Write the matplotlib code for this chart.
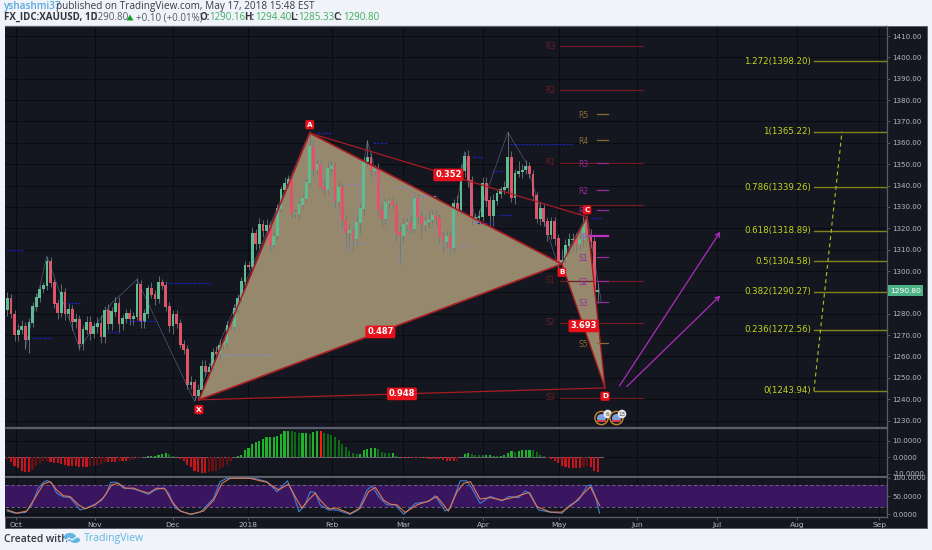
import numpy as np
import matplotlib
matplotlib.use('Agg')
import matplotlib.pyplot as plt
from matplotlib.patches import Rectangle, Circle, Ellipse

# candles, one close per trading day
first_open = 1282.0
closes = [1287.2, 1279.9, 1270.3, 1272.4, 1274.2, 1267.7, 1276.0, 1283.3, 1287.7, 1291.6,
          1293.1, 1304.4, 1294.5, 1284.9, 1280.5, 1289.9, 1279.9, 1282.1, 1276.3, 1277.4,
          1266.1, 1272.7, 1275.8, 1270.5, 1274.2, 1275.5, 1269.3, 1281.7, 1275.2, 1281.0,
          1284.9, 1275.2, 1277.8, 1280.2, 1277.8, 1278.9, 1293.7, 1276.3, 1280.2, 1291.7,
          1289.2, 1287.2, 1294.5, 1293.4, 1283.3, 1274.7, 1279.9, 1275.5, 1265.8, 1263.3,
          1246.9, 1247.7, 1241.5, 1244.3, 1255.2, 1252.9, 1254.9, 1261.8, 1261.2, 1265.4,
          1266.4, 1274.7, 1274.2, 1282.5, 1287.2, 1295.0, 1302.8, 1302.3, 1317.6, 1312.9,
          1322.0, 1318.9, 1321.5, 1312.2, 1316.4, 1329.3, 1338.0, 1341.0, 1343.0, 1326.7,
          1327.0, 1331.0, 1334.1, 1341.4, 1358.5, 1347.6, 1350.0, 1339.5, 1338.0, 1348.1,
          1348.9, 1332.5, 1339.2, 1323.9, 1318.0, 1318.9, 1315.3, 1322.7, 1329.4, 1351.2,
          1353.2, 1346.8, 1347.6, 1328.6, 1324.7, 1332.0, 1332.5, 1330.9, 1318.0, 1316.4,
          1321.6, 1322.7, 1320.0, 1334.1, 1325.5, 1321.6, 1323.1, 1323.9, 1326.1, 1324.7,
          1316.1, 1313.8, 1316.1, 1311.1, 1331.7, 1328.9, 1347.0, 1353.6, 1342.3, 1324.7,
          1325.2, 1325.5, 1341.1, 1333.0, 1326.1, 1333.0, 1336.1, 1338.0, 1339.2, 1353.1,
          1334.5, 1345.8, 1346.5, 1347.3, 1349.2, 1345.4, 1335.2, 1324.5, 1329.4, 1323.1,
          1316.9, 1323.1, 1315.3, 1303.6, 1305.2, 1311.8, 1314.6, 1314.9, 1313.0, 1314.6,
          1321.6, 1316.9, 1313.8, 1290.4, 1290.8]
wick_up = [3, 2, 2, 3, 3, 2, 2, 2, 2, 2,
           2, 2, 2, 2, 2, 4, 2, 3, 2, 3,
           2, 2, 3, 3, 2, 3, 4, 2, 3, 2,
           3, 3, 2, 2, 2, 2, 3, 2, 2, 2,
           3, 2, 3, 2, 2, 2, 2, 2, 2, 2,
           2, 3, 2, 3, 3, 3, 2, 2, 3, 3,
           2, 2, 3, 2, 2, 2, 2, 2, 3, 2,
           3, 2, 3, 2, 2, 2, 2, 3, 2, 3,
           2, 2, 2, 2, 7, 3, 2, 2, 3, 3,
           3, 2, 3, 2, 3, 3, 2, 3, 2, 2,
           8, 2, 2, 3, 3, 2, 2, 3, 2, 3,
           3, 2, 3, 3, 2, 3, 3, 4, 3, 3,
           2, 2, 3, 3, 2, 4, 3, 2, 3, 2,
           2, 3, 3, 3, 2, 3, 2, 2, 3, 12,
           3, 2, 5, 3, 3, 2, 2, 2, 3, 2,
           2, 2, 2, 2, 5, 3, 3, 3, 3, 4,
           4, 3, 3, 2, 3.6]
wick_dn = [3, 2, 3, 3, 2, 4, 6, 2, 2, 2,
           2, 2, 2, 2, 3, 2, 3, 3, 4, 3,
           3, 3, 2, 3, 2, 3, 3, 3, 3, 3,
           2, 4, 3, 2, 3, 3, 2, 3, 3, 2,
           2, 3, 2, 2, 2, 3, 4, 2, 2, 2,
           2, 2, 2, 2, 2, 2, 4, 2, 2, 3,
           2, 2, 2, 2, 2, 2, 2, 2, 2, 3,
           2, 3, 2, 3, 2, 2, 2, 3, 2, 2,
           2, 3, 2, 2, 2, 3, 3, 2, 3, 2,
           2, 3, 3, 4, 7, 9, 6, 3, 5, 3,
           2, 3, 2, 3, 4, 3, 3, 2, 4, 13,
           3, 3, 2, 2, 3, 6, 3, 3, 3, 3,
           3, 5, 3, 3, 2, 2, 2, 3, 3, 3,
           2, 3, 2, 3, 5, 5, 2, 2, 2, 2,
           2, 3, 2, 3, 2, 2, 2, 2, 3, 2,
           3, 2, 3, 2, 2, 2, 4, 5, 4, 3,
           3, 3, 3, 2, 5.5]

# macd histogram
hist = [-1.5, -3, -5, -6.5, -8.5, -9, -9, -7.5, -5.5, -3.5,
        -2.5, -2, -3, -3.5, -3.5, -4, -4.5, -5, -5, -5.5,
        -6, -6, -6, -5.5, -5, -4.5, -4, -3, -3, -3,
        -3, -2.2, -2.2, -2.5, -1.8, -1.5, -0.6, -0.3, 0.3, 0.6,
        0.8, 1.0, 1.5, 2, 2.3, 2, 0.5, 0, -1, -2.5,
        -4.5, -6, -8, -9, -9.5, -9.5, -9, -8.5, -8, -7,
        -6, -4.5, -2, 0, 0.5, 1.5, 4.5, 5.5, 8, 9,
        10, 11, 12, 12, 12, 13, 14, 15.5, 16, 15.5,
        15, 14.5, 14.5, 14.5, 14, 15, 15.5, 15.5, 14.4, 14,
        13.4, 12.4, 10.4, 8, 6.2, 3.8, 2.4, 1.8, 1.8, 4.5,
        5.2, 5.8, 5.8, 5, 3.4, 2.8, 2.4, 2.4, 1, 0.2,
        -0.2, -0.5, -0.6, -0.5, -0.4, -0.5, -0.5, -0.8, -0.8, -1,
        -1.2, -1.6, -2, -2.2, -2.4, -2, 0.4, 2.0, 2.8, 2.2,
        1.5, 1.3, 1.2, 1.4, 1.6, 1.0, 0.8, 1, 1.5, 2.8,
        3.5, 3, 3.8, 4.2, 4.5, 4.6, 4.5, 3, 1.5, 0.6,
        -0.2, -1, -2, -3.5, -5, -6, -6.4, -6.6, -6.6, -6.6,
        -6, -5.5, -6, -8, -9]
macd_spike_bar = 87

# stochastic lines, turning points only
k_bars = [0, 2.2, 5, 6.8, 8.6, 10, 11.1, 12.4, 13.7, 15.6, 17.4, 18.8, 20.2, 22.1, 24.4, 26.2, 27.6, 28.7,
          30.4, 32.3, 35, 36.9, 39.2, 41.1, 43.4, 44.8, 46.6, 48.9, 51.2, 53.6, 57.3, 59.1, 61, 64.7, 68.4,
          72.1, 74.9, 76.7, 77.8, 79.5, 81, 82.7, 84.1, 85.5, 86.9, 89.2, 91.5, 95.2, 97.5, 99.9, 101.3,
          103.1, 105.4, 107.7, 110.1, 113.3, 117, 118.8, 121.6, 123, 125.8, 127.6, 129, 131.3, 134.1,
          137.4, 139.2, 142, 143.8, 145.2, 147.5, 150.8, 154, 156.3, 158.7, 161, 162.1, 163.3, 164.5]
k_vals = [9, 3, 5, 26, 72, 88, 93, 85, 58, 48, 46, 30, 12, 18, 28, 39, 58, 88,
          88, 72, 70, 64, 55, 67, 73, 58, 17, 6, 0, 6, 44, 90, 99, 99, 99,
          90, 62, 81, 92, 53, 7, 26, 62, 60, 26, 12, 12, 0, 12, 67, 78,
          49, 26, 26, 0, 30, 35, 51, 9, 17, 92, 92, 72, 30, 49,
          37, 49, 46, 64, 58, 12, 6, 3, 26, 39, 78, 81, 49, 3]
d_bars = [0, 2.6, 5.4, 8.2, 10, 11.9, 13.7, 15.6, 17.4, 19.8, 21.6, 24.4, 26.7, 29, 30.9, 32.7, 35, 36.9,
          39.2, 41.5, 43.8, 45.7, 48, 50.8, 54.5, 57.3, 59.6, 61.9, 67.4, 72.1, 75.3, 78.1, 79.9, 81.8,
          83.6, 85.5, 86.9, 89.2, 91.5, 95.2, 98, 100.3, 102.2, 104.5, 106.3, 108.2, 110.5, 113.8, 117,
          119.3, 122.5, 124.9, 126.7, 128.6, 131.3, 134.1, 137.4, 141.5, 144.8, 147.1, 150.8, 154, 157.3,
          159.6, 161.9, 164.5]
d_vals = [12, 3, 9, 53, 83, 90, 67, 51, 49, 26, 15, 26, 46, 81, 85, 72, 72, 65,
          58, 72, 70, 35, 9, 0, 9, 39, 85, 99, 99, 88, 67, 83, 49, 17,
          39, 58, 39, 15, 17, 2, 17, 62, 74, 39, 28, 26, 5, 26, 37,
          49, 9, 62, 85, 90, 42, 46, 39, 49, 60, 21, 6, 6, 30,
          53, 76, 24]

# harmonic pattern
pt_names = ['X', 'A', 'B', 'C', 'D']
pt_bars = [53.2, 84, 154, 161, 166]
pt_prices = [1239.7, 1364.6, 1303.3, 1325.4, 1245.3]

# fib levels
fib_ratios = ['1.414', '1.272', '1', '0.786', '0.618', '0.5', '0.382', '0.236', '0']
fib_prices = [1416.48, 1398.20, 1365.22, 1339.26, 1318.89, 1304.58, 1290.27, 1272.56, 1243.94]

# pivots, long dark ones and short coloured ones
long_names = ['R3', 'R2', 'R1', 'S1', 'S2', 'S3']
long_prices = [1405.3, 1384.7, 1350.6, 1295.4, 1275.7, 1240.6]
pivot_p = 1330.9
short_names = ['R5', 'R4', 'R3', 'R2', 'R1', 'P', 'S1', 'S2', 'S3', 'S5']
short_prices = [1373.5, 1361.3, 1350.6, 1337.9, 1328.6, 1316.4, 1306.6, 1295.4, 1285.5, 1266.3]
short_colors = ['#8a6a32', '#8a6a32', '#98289f', '#98289f', '#98289f', '#c030c8', '#98289f', '#98289f', '#98289f', '#8a6a32']

# blue and lavender pivot dashes
blue_starts = [-0.5, 6.9, 44.4, 16.6, 34, 27.7, 86, 101.6, 139.6, 129.4, 134.6, 136.3, 130.5, 162]
blue_ends = [4.4, 12.4, 56.3, 20.2, 41.6, 31.3, 90.4, 105.5, 157.1, 132.1, 137.4, 140.2, 135, 165.2]
blue_prices = [1310, 1268.7, 1294.4, 1285, 1276.6, 1271.5, 1364.6, 1360, 1359.4, 1353.4, 1346.8, 1326.2, 1322.5, 1324.8]
lav_starts = [59, 96, 93.8, 107.7, 114.6, 125.2]
lav_ends = [73.5, 100.7, 98, 112.7, 119.4, 128.5]
lav_prices = [1260.7, 1313, 1340.7, 1339.3, 1335, 1312.2]

zig_bars = [5, 11, 20, 29, 36, 52, 84, 95, 100, 109, 113, 123, 127, 130, 139, 144, 153, 161, 165]
zig_prices = [1264, 1307, 1264, 1285, 1296, 1239, 1365, 1309, 1361, 1303, 1336, 1308, 1356, 1322, 1365, 1351, 1302, 1326, 1285]

month_labels = ['Oct', 'Nov', 'Dec', '2018', 'Feb', 'Mar', 'Apr', 'May', 'Jun', 'Jul', 'Aug', 'Sep']
month_bars = [2.4, 24.3, 46.0, 66.9, 90.1, 110, 132.2, 153.1, 175, 197.2, 219.3, 242.2]

arrow_starts = [(170, 1246.2), (172, 1245.9)]
arrow_ends = [(198, 1318.4), (198, 1288.5)]
fib_trend_bars = [224, 231.8]
fib_trend_prices = [1243.94, 1365.22]

price_ticks = list(range(1230, 1411, 10))
W, H = 932, 550
BG = '#141720'
GRID = '#0a0c11'
TICKC = '#b4b8c0'


def pane(top, bottom):
    return fig.add_axes([5 / W, 1 - bottom / H, (887 - 5) / W, (bottom - top) / H])


fig = plt.figure(figsize=(W / 100, H / 100), dpi=100, facecolor='#f0f3fa')
fig.patches.append(Rectangle((5 / W, 1 - 528 / H), 922 / W, 502 / H, transform=fig.transFigure,
                             facecolor=BG, edgecolor='#555a64', linewidth=0.6, zorder=-5))

ax = pane(26, 427)
ax2 = pane(428, 475.5)
ax3 = pane(476.5, 517)
xlim = (-0.64, 244.3)

for a in (ax, ax2, ax3):
    a.set_facecolor(BG)
    a.set_xlim(xlim)
    a.set_xticks(month_bars)
    a.set_xticklabels([])
    a.yaxis.tick_right()
    a.tick_params(axis='both', colors='#6a6e78', labelcolor=TICKC, labelsize=5.1, length=2, width=0.5, pad=2)
    a.tick_params(axis='x', length=0)
    a.grid(True, color=GRID, linewidth=0.8)
    a.set_axisbelow(True)
    for side, sp in a.spines.items():
        sp.set_color('#5a5e68')
        sp.set_linewidth(0.9)
        if side == 'left':
            sp.set_visible(False)

# price pane
ax.set_ylim(1227.0, 1414.7)
ax.set_yticks(price_ticks)
ax.set_yticklabels(['%.2f' % p for p in price_ticks])

# pattern fill goes under the candles
fill_c = '#95886c'
ax.fill([pt_bars[0], pt_bars[1], pt_bars[2]], [pt_prices[0], pt_prices[1], pt_prices[2]], color=fill_c, lw=0, zorder=1)
ax.fill([pt_bars[2], pt_bars[3], pt_bars[4]], [pt_prices[2], pt_prices[3], pt_prices[4]], color=fill_c, lw=0, zorder=1)

for name, p in zip(long_names, long_prices):
    ax.plot([153.5, 176.6], [p, p], color='#6e1c24', lw=0.9, zorder=1.5)
    ax.text(150.7, p, name, color='#6e1c24', fontsize=5.5, ha='center', va='center', zorder=1.5)
ax.plot([153.5, 176.6], [pivot_p, pivot_p], color='#6e1c24', lw=0.9, zorder=1.5)

closes_arr = np.array(closes)
opens = np.concatenate([[first_open], closes_arr[:-1]])
bars = np.arange(len(closes))
tops = np.maximum(opens, closes_arr)
bots = np.minimum(opens, closes_arr)
highs = tops + np.array(wick_up)
lows = bots - np.array(wick_dn)
cols = ['#5dbd90' if c >= o else '#df5469' for o, c in zip(opens, closes_arr)]
ax.vlines(bars, lows, highs, colors='#6c7a78', linewidth=0.6, zorder=2)
ax.bar(bars, tops - bots + 0.4, bottom=bots - 0.2, width=0.78, color=cols, linewidth=0, zorder=3)

for s, e, p in zip(blue_starts, blue_ends, blue_prices):
    ax.plot([s, e], [p, p], color='#1d1fb0', lw=0.9, ls=(0, (2, 1)), zorder=4)
for s, e, p in zip(lav_starts, lav_ends, lav_prices):
    ax.plot([s, e], [p, p], color='#8d89b8', lw=0.8, ls=(0, (2, 1)), zorder=4)
ax.plot(zig_bars, zig_prices, color='#8090c8', lw=0.5, alpha=0.55, zorder=4)

# pattern outline
red = '#a81c22'
for i, j, lw in [(0, 1, 1.2), (1, 2, 1.2), (0, 2, 1.2), (2, 3, 1.0), (3, 4, 1.0), (2, 4, 1.0), (0, 4, 0.9), (1, 3, 0.9)]:
    ax.plot([pt_bars[i], pt_bars[j]], [pt_prices[i], pt_prices[j]], color=red, lw=lw, zorder=5)

box = dict(boxstyle='round,pad=0.22', fc='#e8101a', ec='none')
for i, j, txt in [(1, 3, '0.352'), (0, 2, '0.487'), (0, 4, '0.948'), (2, 4, '3.693')]:
    ax.text((pt_bars[i] + pt_bars[j]) / 2, (pt_prices[i] + pt_prices[j]) / 2, txt, color='white', fontsize=6,
            fontweight='bold', ha='center', va='center', bbox=box, zorder=7)
offsets = {'X': -7, 'A': 6, 'B': -6, 'C': 5, 'D': -6}
for name, b, p in zip(pt_names, pt_bars, pt_prices):
    ax.annotate(name, (b, p), xytext=(0, offsets[name]), textcoords='offset points', color='white', fontsize=5.2,
                fontweight='bold', ha='center', va='center', bbox=box, zorder=7)

for name, p, c in zip(short_names, short_prices, short_colors):
    lw = 1.6 if name == 'P' else 0.9
    start = 161.9 if name == 'P' else 163.8
    ax.plot([start, 166.8], [p, p], color=c, lw=lw, zorder=6)
    ax.text(159.9, p - 0.8, name, color=c, fontsize=5.5, ha='center', va='center', zorder=6)

# fib block
for r, p in zip(fib_ratios, fib_prices):
    ax.text(223.2, p, '%s(%.2f)' % (r, p), color='#c4d41e', fontsize=6.2, ha='right', va='center', clip_on=True, zorder=6)
    ax.plot([223.9, xlim[1]], [p, p], color='#84841e', lw=1.0, zorder=2)
ax.plot(fib_trend_bars, fib_trend_prices, color='#b4c020', lw=0.8, ls=(0, (3.5, 3)), zorder=6)

for st, en in zip(arrow_starts, arrow_ends):
    ax.annotate('', xy=en, xytext=st, zorder=6,
                arrowprops=dict(arrowstyle='->,head_width=0.16,head_length=0.3', color='#b02cc0', lw=0.9,
                                shrinkA=0, shrinkB=0))

# last price tag
ax.plot([xlim[1], xlim[1]], [1290.8, 1290.8], color='#4fb286')
ax.text(245.2, 1290.8, '1290.80', color='white', fontsize=5.4, ha='left', va='center', clip_on=False, zorder=8,
        bbox=dict(boxstyle='square,pad=0.3', fc='#4fb286', ec='none'))

# macd pane
ax2.set_ylim(-10.9, 17.5)
ax2.set_yticks([-10, 0, 10])
ax2.set_yticklabels(['-10.0000', '0.0000', '10.0000'])
hist_cols = []
for i, v in enumerate(hist):
    rising = i > 0 and abs(v) >= abs(hist[i - 1])
    if v >= 0:
        hist_cols.append('#1fb32a' if rising else '#0f6a18')
    else:
        hist_cols.append('#c4161c' if rising else '#6a1014')
hist_cols[macd_spike_bar] = '#ff1a10'
ax2.bar(np.arange(len(hist)), hist, width=0.6, color=hist_cols, linewidth=0, zorder=3)
ax2.axhline(0, color='#6a6e78', lw=0.7, xmax=(165.5 - xlim[0]) / (xlim[1] - xlim[0]), zorder=2)

# stochastic pane
ax3.set_ylim(-7.4, 104)
ax3.set_yticks([0, 50, 100])
ax3.set_yticklabels(['0.0000', '50.0000', '100.0000'])
ax3.axhspan(20, 80, color='#3a1660', lw=0, zorder=1)
for lev in (20, 80):
    ax3.axhline(lev, color='#7a6a8e', lw=0.6, ls=(0, (4, 3)), zorder=2)
ax3.plot(k_bars, k_vals, color='#3f7fd6', lw=0.8, zorder=3)
ax3.plot(d_bars, d_vals, color='#e07a50', lw=0.8, zorder=4)
ax3.set_xticklabels(month_labels)
ax3.tick_params(axis='x', length=2, labelsize=5.4, pad=1.5, colors='#6a6e78', labelcolor=TICKC)

# header and footer
dark = '#33363e'
grn = '#3fae5a'


def label(x, y, s, color=dark, weight='normal', size=7.0):
    fig.text(x / W, 1 - y / H, s, color=color, fontsize=size, fontweight=weight, va='center', family='Open Sans')


label(4, 7, 'yshashmi37', '#5aa9dc', 'semibold', 7.2)
label(56, 7, 'published on TradingView.com, May 17, 2018 15:48 EST', '#3a3d45', 'normal', 7.2)
label(4, 17.5, 'FX_IDC:XAUUSD, 1D', dark, 'bold', 7.0)
label(92, 17.5, '1290.80', '#555963')
label(136, 17.5, '+0.10 (+0.01%)', '#555963')
for x, s, xv, v in [(199, 'O:', 209, '1290.16'), (244, 'H:', 255, '1294.40'), (290, 'L:', 298, '1285.33'), (333, 'C:', 343, '1290.80')]:
    label(x, 17.5, s, dark, 'bold')
    label(xv, 17.5, v, grn)
label(4, 539, 'Created with', dark, 'semibold', 7.4)
label(84, 539, 'TradingView', '#5fb6e0', 'normal', 7.6)

# little drawings in pixel coordinates: tick triangle, logo, earnings coins
deco = fig.add_axes([0, 0, 1, 1], zorder=10)
deco.set_xlim(0, W)
deco.set_ylim(H, 0)
deco.axis('off')
deco.fill([126.5, 133.5, 130], [20.5, 20.5, 14.5], color='#12a02c', lw=0)
deco.add_patch(Ellipse((70, 537), 12, 8, color='#5fb6e0', lw=0))
deco.add_patch(Ellipse((75, 540), 10, 6, color='#5fb6e0', lw=0))
deco.plot([64, 69, 72, 78], [542, 538, 540, 536], color='white', lw=0.8)
for cx, bx, txt in [(601.5, 607.7, '6'), (616.5, 622, '13')]:
    deco.add_patch(Circle((cx, 418), 6.6, fc='#1a1a22', ec='#c68a30', lw=1))
    deco.add_patch(Ellipse((cx, 418), 9, 8, color='#7fa0e0', lw=0))
    deco.add_patch(Rectangle((cx - 4.5, 420), 9, 1.8, color='#d04040', lw=0))
    deco.add_patch(Circle((bx, 414), 4.3, color='#e8e8ec', lw=0))
    deco.text(bx, 414, txt, color='#444', fontsize=4, ha='center', va='center')

fig.savefig('out.png', dpi=100, facecolor=fig.get_facecolor())
